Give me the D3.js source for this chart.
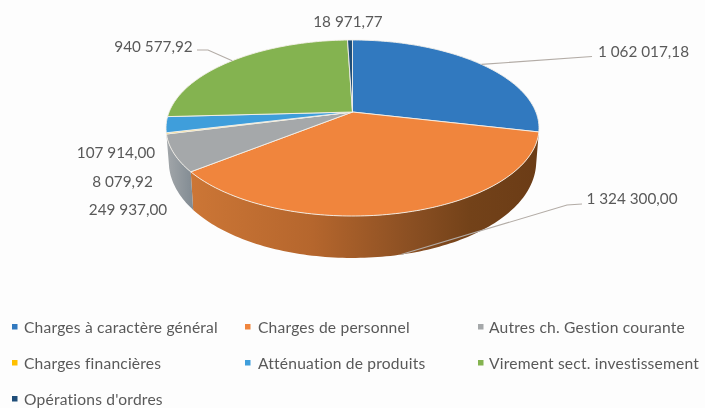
<!DOCTYPE html>
<html>
<head>
<meta charset="utf-8">
<script src="https://cdn.jsdelivr.net/npm/d3@7"></script>
<style>
  html, body { margin: 0; padding: 0; background: #fdfdfd; }
  svg { display: block; filter: blur(0.45px); }
  text { font-family: Lato, "Open Sans", sans-serif; fill: #595959; }
</style>
</head>
<body>
<div id="chart"></div>
<script>
const categories = [
  "Charges à caractère général",
  "Charges de personnel",
  "Autres ch. Gestion courante",
  "Charges financières",
  "Atténuation de produits",
  "Virement sect. investissement",
  "Opérations d'ordres"
];
const values = [1062017.18, 1324300.0, 249937.0, 8079.92, 107914.0, 940577.92, 18971.77];
const valueLabels = ["1 062 017,18", "1 324 300,00", "249 937,00", "8 079,92", "107 914,00", "940 577,92", "18 971,77"];
const colors = ["#3179bf", "#f0853d", "#a5a8aa", "#ffc000", "#3f9edb", "#84b350", "#1f4e79"];

const width = 705;
const height = 408;

// 3D projection of the pie disc
const cx = 352.5, cy = 112;
const k = 0.1818, rx = 183.4, ry = 85.1;
const bottomScale = 0.985;

function project(angle, bottom) {
  const u = Math.sin(angle), v = -Math.cos(angle);
  const p = 1 - k * v;
  const s = bottom ? bottomScale : 1;
  const depth = bottom ? 31.5 + 12 * v : 0;
  return [cx + s * rx * u / p, cy + depth + s * ry * v / p];
}

const svg = d3.select("#chart").append("svg")
  .attr("width", width).attr("height", height);

svg.append("rect").attr("width", width).attr("height", height).attr("fill", "#fdfdfd");

const arcs = d3.pie().sort(null).value((d) => d)(values);
const line = d3.line();

function samples(a0, a1) {
  const n = Math.max(2, Math.ceil((a1 - a0) / 0.02));
  return d3.range(n + 1).map((i) => a0 + (a1 - a0) * i / n);
}

// gradients for the side walls
const defs = svg.append("defs");
const orangeWall = defs.append("linearGradient").attr("id", "wall-1")
  .attr("gradientUnits", "userSpaceOnUse")
  .attr("x1", 190).attr("x2", 540).attr("y1", 0).attr("y2", 0);
[[0, "#cc7636"], [0.35, "#b5662d"], [0.62, "#8c5023"], [0.8, "#734219"], [1, "#6b3c16"]].forEach((s) => {
  orangeWall.append("stop").attr("offset", s[0]).attr("stop-color", s[1]);
});
const grayWall = defs.append("linearGradient").attr("id", "wall-2")
  .attr("gradientUnits", "userSpaceOnUse")
  .attr("x1", 165).attr("x2", 195).attr("y1", 0).attr("y2", 0);
[[0, "#a4a8ab"], [1, "#7f8991"]].forEach((s) => {
  grayWall.append("stop").attr("offset", s[0]).attr("stop-color", s[1]);
});

// side walls, only the two slices that face the viewer
svg.append("g").selectAll("path")
  .data(arcs.filter((d) => d.index === 1 || d.index === 2))
  .enter().append("path")
  .attr("d", (d) => {
    const a = samples(d.startAngle, d.endAngle);
    const top = a.map((t) => project(t, false));
    const bot = a.slice().reverse().map((t) => project(t, true));
    return line(top.concat(bot)) + "Z";
  })
  .attr("fill", (d) => `url(#wall-${d.index})`);

// top face
svg.append("g").selectAll("path")
  .data(arcs)
  .enter().append("path")
  .attr("d", (d) => {
    const rim = samples(d.startAngle, d.endAngle).map((t) => project(t, false));
    return line([[cx, cy]].concat(rim)) + "Z";
  })
  .attr("fill", (d) => colors[d.index])
  .attr("stroke", "#f4f1ea")
  .attr("stroke-width", 0.9)
  .attr("stroke-linejoin", "round");

// leader lines: label-side points, last point sits on the rim at the slice middle
const leaders = [
  { index: 0, points: [[592, 56.5]], bottom: false },
  { index: 1, points: [[582, 204], [567, 205]], bottom: true },
  { index: 5, points: [[197, 50], [208, 50]], bottom: false }
];
svg.append("g").selectAll("path")
  .data(leaders)
  .enter().append("path")
  .attr("d", (d) => {
    const arc = arcs[d.index];
    const end = project((arc.startAngle + arc.endAngle) / 2, d.bottom);
    return line(d.points.concat([end]));
  })
  .attr("fill", "none")
  .attr("stroke", "#b3aca6")
  .attr("stroke-width", 1.1);

// value labels, centres
const labelPos = [[643.5, 51], [632, 198], [128, 209], [122.5, 180.5], [116, 151.5], [153.5, 45.5], [348, 21]];
svg.append("g").selectAll("text")
  .data(valueLabels)
  .enter().append("text")
  .attr("x", (d, i) => labelPos[i][0])
  .attr("y", (d, i) => labelPos[i][1])
  .attr("text-anchor", "middle")
  .attr("dominant-baseline", "central")
  .style("font-size", "15.3px")
  .text((d) => d);

// legend
const legendX = d3.scaleOrdinal().domain([0, 1, 2]).range([12, 245, 478]);
const legendY = d3.scalePoint().domain([0, 1, 2]).range([327, 399]);
const legend = svg.append("g").selectAll("g")
  .data(categories)
  .enter().append("g")
  .attr("transform", (d, i) => `translate(${legendX(i % 3)},${legendY(Math.floor(i / 3))})`);
legend.append("rect")
  .attr("x", 0).attr("y", -3).attr("width", 5.5).attr("height", 5.5)
  .attr("fill", (d, i) => colors[i]);
legend.append("text")
  .attr("x", (d, i) => i % 3 === 0 ? 12 : i % 3 === 1 ? 13 : 11)
  .attr("y", 0)
  .attr("dominant-baseline", "central")
  .style("font-size", "15.6px")
  .style("letter-spacing", "0.2px")
  .text((d) => d);
</script>
</body>
</html>
